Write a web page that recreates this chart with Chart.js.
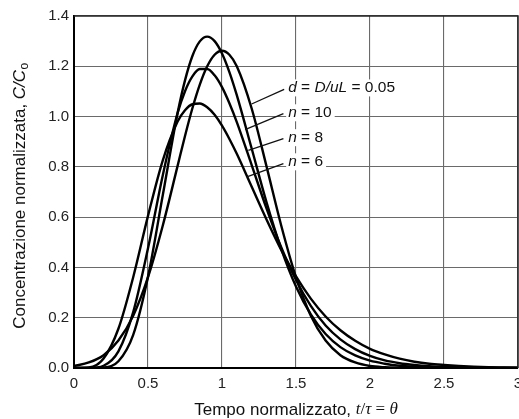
<!DOCTYPE html>
<html><head><meta charset="utf-8">
<script src="https://cdn.jsdelivr.net/npm/chart.js@4/dist/chart.umd.min.js"></script>
<style>html,body{margin:0;padding:0;background:#fff;}#wrap{width:519px;height:419px;}</style>
</head><body><div id="wrap"><canvas id="c" width="519" height="419"></canvas></div>
<script>
// Normalized time θ
const theta = [0,0.1,0.2,0.3,0.4,0.5,0.6,0.7,0.75,0.8,0.85,0.9,0.95,1.0,1.05,1.1,1.2,1.3,1.4,1.5,1.6,1.7,1.8,1.9,2.0,2.1,2.2,2.3,2.4,2.5,2.6,2.7,2.8,2.9,3.0];
// d = D/uL = 0.05
const dispersion = [0.008,0.022,0.051,0.109,0.208,0.361,0.567,0.804,0.923,1.033,1.127,1.200,1.246,1.262,1.246,1.200,1.033,0.804,0.567,0.361,0.208,0.109,0.051,0.022,0.008,0.003,0.001,0,0,0,0,0,0,0,0];
// n = 10
const n10 = [0,0,0.002,0.027,0.132,0.363,0.688,1.014,1.144,1.241,1.299,1.318,1.300,1.251,1.177,1.085,0.874,0.661,0.474,0.324,0.213,0.135,0.083,0.050,0.029,0.017,0.009,0.005,0.003,0.0015,0.001,0,0,0,0];
// n = 8
const n8 = [0,0,0.009,0.066,0.222,0.476,0.767,1.014,1.101,1.160,1.189,1.189,1.164,1.117,1.053,0.978,0.808,0.636,0.480,0.350,0.247,0.169,0.114,0.075,0.048,0.030,0.019,0.012,0.007,0.004,0.0025,0.0015,0.0008,0.0005,0.0003];
// n = 6
const n6 = [0,0.002,0.038,0.156,0.361,0.605,0.826,0.980,1.025,1.049,1.052,1.037,1.007,0.964,0.911,0.852,0.722,0.592,0.470,0.364,0.276,0.205,0.150,0.108,0.076,0.054,0.037,0.025,0.017,0.012,0.008,0.005,0.003,0.002,0.001];

const xTicks = [0,0.5,1,1.5,2,2.5,3];
const xTickLabels = ["0","0.5","1","1.5","2","2.5","3"];
const yTicks = [0,0.2,0.4,0.6,0.8,1.0,1.2,1.4];
const yTickLabels = ["0.0","0.2","0.4","0.6","0.8","1.0","1.2","1.4"];

const seriesNames = ["d = D/uL = 0.05","n = 10","n = 8","n = 6"];
const seriesValues = [dispersion, n10, n8, n6];

// curve labels: text segments [text, italic]
const labelSegments = [
  [["d",true],[" = ",false],["D/uL",true],[" = 0.05",false]],
  [["n",true],[" = 10",false]],
  [["n",true],[" = 8",false]],
  [["n",true],[" = 6",false]]
];
// label anchor (θ, value) of text left/middle; leader from → to in data units
const labelAnchor = [[1.447,1.116],[1.447,1.017],[1.447,0.918],[1.447,0.822]];
const leaderFrom = [[1.42,1.108],[1.415,1.012],[1.415,0.912],[1.415,0.813]];
const leaderTo = [[1.20,1.050],[1.156,0.948],[1.178,0.866],[1.168,0.760]];

const SANS = '"Liberation Sans", Arial, Helvetica, sans-serif';
const SERIF = '"Liberation Serif", "Times New Roman", serif';

const datasets = seriesNames.map((name, i) => ({
  label: name,
  data: theta.map((t, k) => ({x: t, y: seriesValues[i][k]})),
  borderColor: '#000',
  borderWidth: 2.4,
  pointRadius: 0,
  fill: false,
  cubicInterpolationMode: 'monotone'
}));

function drawSegments(ctx, segs, x, y, size, fam) {
  let cx = x;
  for (const [txt, it] of segs) {
    ctx.font = (it ? 'italic ' : '') + size + 'px ' + fam;
    ctx.fillText(txt, cx, y);
    cx += ctx.measureText(txt).width;
  }
  return cx - x;
}
function measureSegments(ctx, segs, size, fam) {
  let w = 0;
  for (const [txt, it] of segs) {
    ctx.font = (it ? 'italic ' : '') + size + 'px ' + fam;
    w += ctx.measureText(txt).width;
  }
  return w;
}

const decor = {
  id: 'decor',
  beforeDraw(chart) {
    const ctx = chart.ctx;
    ctx.save();
    ctx.fillStyle = '#fff';
    ctx.fillRect(0, 0, chart.width, chart.height);
    ctx.restore();
  },
  afterDatasetsDraw(chart) {
    const ctx = chart.ctx;
    const xs = chart.scales.x, ys = chart.scales.y;
    const ca = chart.chartArea;
    ctx.save();
    // frame top & right
    ctx.strokeStyle = '#222';
    ctx.lineWidth = 1.5;
    ctx.beginPath();
    ctx.moveTo(ca.left, ca.top); ctx.lineTo(ca.right, ca.top); ctx.lineTo(ca.right, ca.bottom);
    ctx.stroke();
    // curve labels
    ctx.textBaseline = 'middle';
    ctx.fillStyle = '#111';
    for (let i = 0; i < labelSegments.length; i++) {
      const px = xs.getPixelForValue(labelAnchor[i][0]);
      const py = ys.getPixelForValue(labelAnchor[i][1]);
      const w = measureSegments(ctx, labelSegments[i], 15.5, SANS);
      ctx.fillStyle = '#fff';
      ctx.fillRect(px - 2, py - 8, w + 5, 17);
      ctx.fillStyle = '#111';
      drawSegments(ctx, labelSegments[i], px, py + 0.5, 15.5, SANS);
      ctx.strokeStyle = '#111';
      ctx.lineWidth = 1.3;
      ctx.beginPath();
      ctx.moveTo(xs.getPixelForValue(leaderFrom[i][0]), ys.getPixelForValue(leaderFrom[i][1]));
      ctx.lineTo(xs.getPixelForValue(leaderTo[i][0]), ys.getPixelForValue(leaderTo[i][1]));
      ctx.stroke();
    }
    // x title
    const xSegs = [["Tempo normalizzato, ", false, SANS], ["t", true, SERIF], ["/", false, SERIF], ["τ", true, SERIF], [" = ", false, SERIF], ["θ", true, SERIF]];
    let tw = 0;
    for (const [t, it, f] of xSegs) { ctx.font = (it ? 'italic ' : '') + '17px ' + f; tw += ctx.measureText(t).width; }
    let cx = (ca.left + ca.right) / 2 - tw / 2;
    ctx.fillStyle = '#111';
    for (const [t, it, f] of xSegs) {
      ctx.font = (it ? 'italic ' : '') + '17px ' + f;
      ctx.fillText(t, cx, 410);
      cx += ctx.measureText(t).width;
    }
    // y title
    ctx.translate(20, 196);
    ctx.rotate(-Math.PI / 2);
    ctx.font = '17px ' + SANS;
    const a = "Concentrazione normalizzata, ";
    const wa = ctx.measureText(a).width;
    ctx.font = 'italic 17px ' + SANS;
    const b = "C/C";
    const wb = ctx.measureText(b).width;
    ctx.font = '12px ' + SANS;
    const wc = ctx.measureText("o").width;
    let sx = -(wa + wb + wc) / 2;
    ctx.font = '17px ' + SANS; ctx.fillText(a, sx, 0); sx += wa;
    ctx.font = 'italic 17px ' + SANS; ctx.fillText(b, sx, 0); sx += wb;
    ctx.font = '12px ' + SANS; ctx.fillText("o", sx + 0.5, 5);
    ctx.restore();
  }
};

new Chart(document.getElementById('c'), {
  type: 'line',
  data: { datasets },
  plugins: [decor],
  options: {
    responsive: false,
    animation: false,
    devicePixelRatio: 1,
    layout: { padding: { top: 16, right: 1, left: 0, bottom: 0 } },
    plugins: { legend: { display: false }, tooltip: { enabled: false } },
    scales: {
      x: {
        type: 'linear', min: 0, max: 3,
        afterBuildTicks: s => { s.ticks = xTicks.map(v => ({ value: v })); },
        ticks: {
          callback: (v) => xTickLabels[xTicks.indexOf(v)] ?? '',
          font: { family: SANS, size: 15 }, color: '#222', padding: 7, maxRotation: 0, autoSkip: false
        },
        grid: { color: '#6a6a6a', lineWidth: 1.1, drawTicks: false },
        border: { display: true, color: '#000', width: 2 },
        afterFit: s => { s.height = 51; s.paddingLeft = 0; s.paddingRight = 0; }
      },
      y: {
        type: 'linear', min: 0, max: 1.4,
        afterBuildTicks: s => { s.ticks = yTicks.map(v => ({ value: v })); },
        ticks: {
          callback: (v) => { const i = yTicks.findIndex(t => Math.abs(t - v) < 1e-9); return i >= 0 ? yTickLabels[i] : ''; },
          font: { family: SANS, size: 15 }, color: '#222', padding: 5, autoSkip: false
        },
        grid: { color: '#6a6a6a', lineWidth: 1.1, drawTicks: false },
        border: { display: true, color: '#000', width: 2 },
        afterFit: s => { s.width = 74; s.paddingTop = 0; s.paddingBottom = 0; }
      }
    }
  }
});
</script></body></html>
